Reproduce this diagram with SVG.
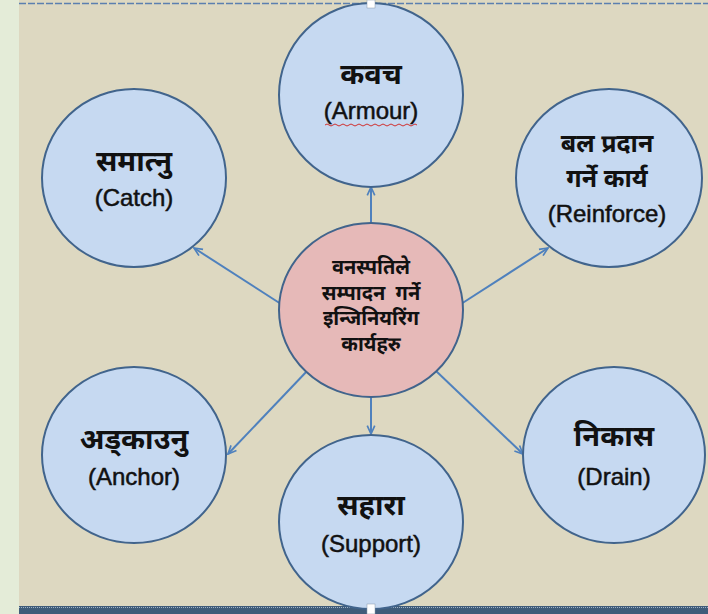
<svg xmlns="http://www.w3.org/2000/svg" width="708" height="614" viewBox="0 0 708 614">
<style>
.node{fill:#c6d9f1;stroke:#41648c;stroke-width:2}
.hub{fill:#e6b9b8;stroke:#41648c;stroke-width:2}
.dv{font-family:"Noto Sans Devanagari","Noto Sans","Lohit Devanagari","Mangal",sans-serif;font-weight:bold;fill:#111;text-anchor:middle}
.en{font-family:"Liberation Sans",Arial,sans-serif;font-size:24px;fill:#111;stroke:#111;stroke-width:0.5;text-anchor:middle}
.conn line{stroke:#4f81bd;stroke-width:2;marker-end:url(#ah)}
</style>
<defs>
<marker id="ah" viewBox="0 0 12 12" refX="11" refY="6" markerWidth="10" markerHeight="10" orient="auto" markerUnits="userSpaceOnUse">
<path d="M1,1.5 L11,6 L1,10.5" fill="none" stroke="#4f81bd" stroke-width="2"/>
</marker>
</defs>
<rect x="0" y="0" width="708" height="614" fill="#ddd8c1"/>
<rect x="0" y="0" width="19" height="614" fill="#e4ecd8"/>
<line x1="19" y1="3.5" x2="708" y2="3.5" stroke="#5b7fb0" stroke-width="1.5" stroke-dasharray="7 2"/>
<rect x="19" y="606" width="689" height="8" fill="#3f5c7a"/>
<line x1="19" y1="607.5" x2="708" y2="607.5" stroke="#9fb2c6" stroke-width="1" stroke-dasharray="1 1"/>

<g class="conn" id="connectors">
<line x1="371" y1="223" x2="371" y2="187"/>
<line x1="281" y1="304" x2="194" y2="248"/>
<line x1="461" y1="304" x2="548" y2="248"/>
<line x1="308" y1="370" x2="228" y2="454"/>
<line x1="435" y1="370" x2="523" y2="454"/>
<line x1="371" y1="397" x2="371" y2="434"/>
</g>

<g id="node-kavach">
<ellipse class="node" cx="371" cy="95" rx="92" ry="92"/>
<text class="dv" x="371" y="84" font-size="29">कवच</text>
<text class="en" x="371" y="119">(Armour)</text>
<path d="M325,125 q2,-2 4,0 t4,0 t4,0 t4,0 t4,0 t4,0 t4,0 t4,0 t4,0 t4,0 t4,0 t4,0 t4,0 t4,0 t4,0 t4,0 t4,0 t4,0 t4,0 t4,0 t4,0 t4,0 t4,0" fill="none" stroke="#d03030" stroke-width="1"/>
</g>

<g id="node-catch">
<ellipse class="node" cx="134" cy="178" rx="92" ry="89"/>
<text class="dv" x="134" y="171" font-size="29">समात्नु</text>
<text class="en" x="134" y="206">(Catch)</text>
</g>

<g id="node-reinforce">
<ellipse class="node" cx="609" cy="178" rx="93" ry="89"/>
<text class="dv" x="607" y="152" font-size="25">बल प्रदान</text>
<text class="dv" x="607" y="187" font-size="25">गर्ने कार्य</text>
<text class="en" x="607" y="222">(Reinforce)</text>
</g>

<g id="node-center">
<ellipse class="hub" cx="371" cy="310" rx="92" ry="87"/>
<text class="dv" x="371" y="274" font-size="20">वनस्पतिले</text>
<text class="dv" x="371" y="299.5" font-size="20" xml:space="preserve">सम्पादन  गर्ने</text>
<text class="dv" x="371" y="325" font-size="20">इन्जिनियरिंग</text>
<text class="dv" x="371" y="350.5" font-size="20">कार्यहरु</text>
</g>

<g id="node-anchor">
<ellipse class="node" cx="134" cy="455" rx="92" ry="88"/>
<text class="dv" x="134" y="449" font-size="29">अड्काउनु</text>
<text class="en" x="134" y="485">(Anchor)</text>
</g>

<g id="node-support">
<ellipse class="node" cx="371" cy="522" rx="92" ry="87"/>
<text class="dv" x="371" y="515" font-size="29">सहारा</text>
<text class="en" x="371" y="552">(Support)</text>
</g>

<g id="node-drain">
<ellipse class="node" cx="614" cy="455" rx="91" ry="88"/>
<text class="dv" x="614" y="446" font-size="29">निकास</text>
<text class="en" x="614" y="485">(Drain)</text>
</g>

<rect x="367" y="0" width="8" height="8" fill="#ffffff" stroke="#8899aa" stroke-width="0.5"/>
<rect x="367" y="604" width="8" height="10" fill="#ffffff" stroke="#8899aa" stroke-width="0.5"/>
</svg>
